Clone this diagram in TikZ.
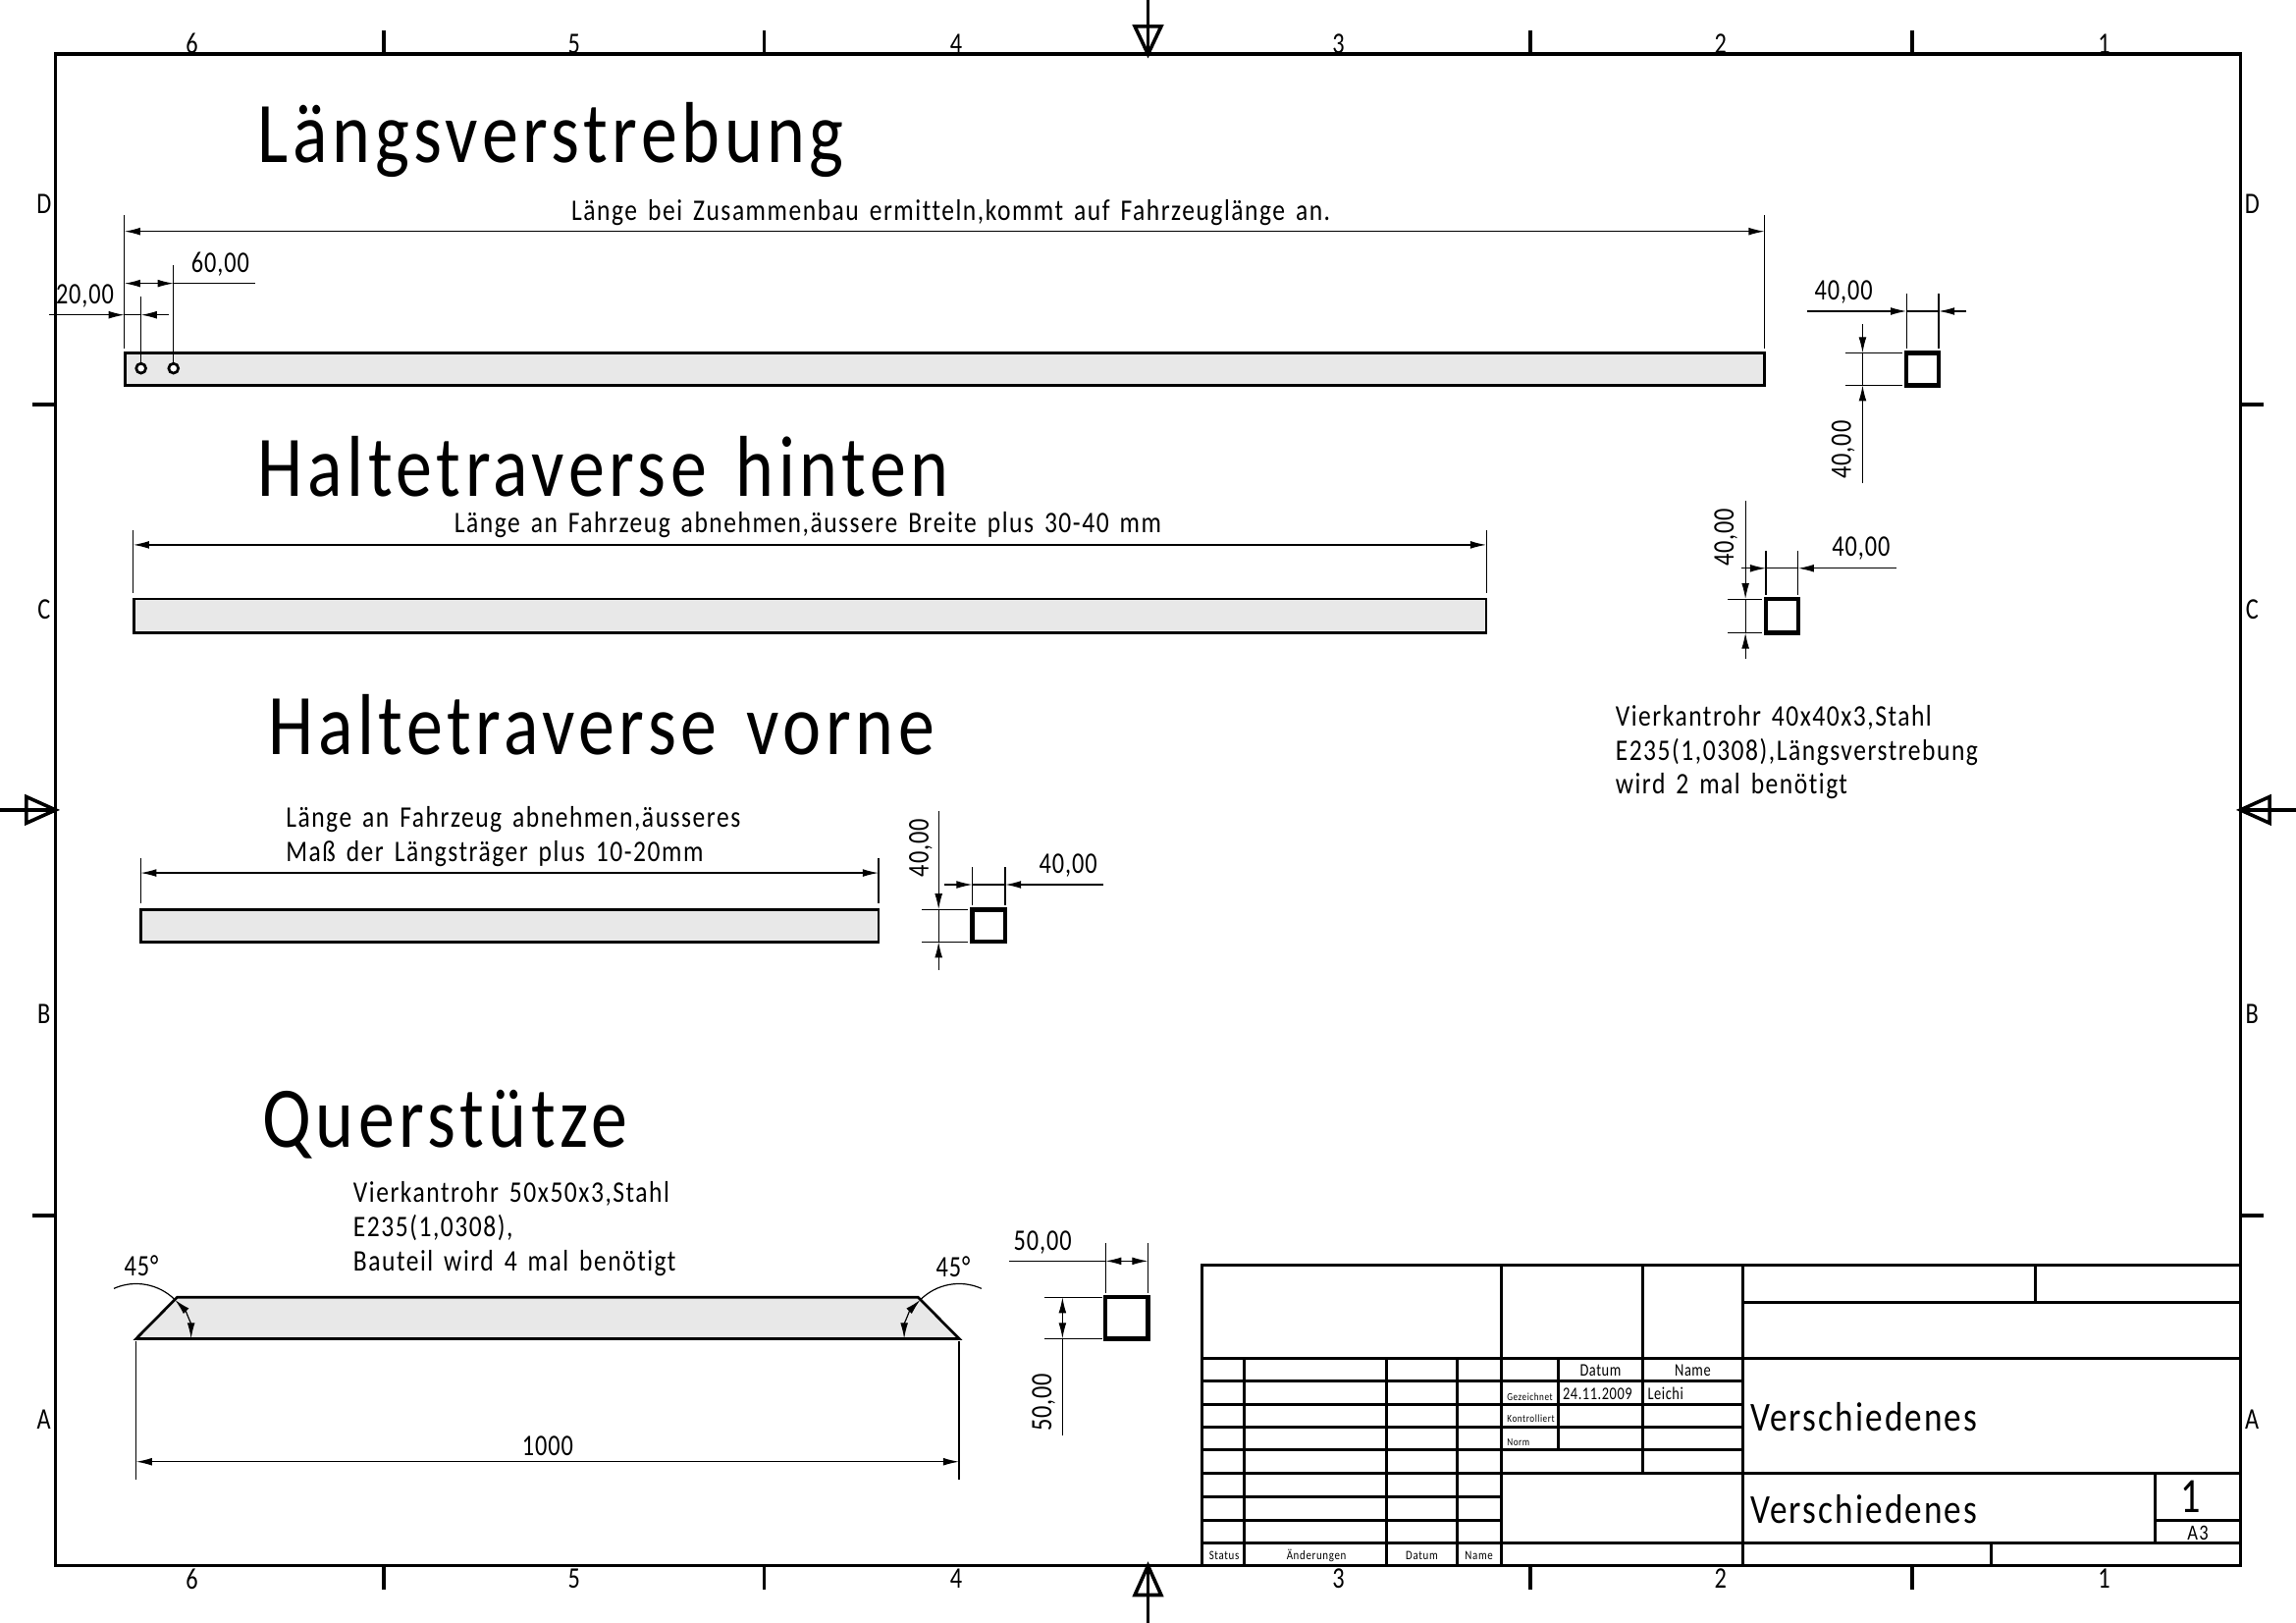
\documentclass[tikz,border=0pt]{standalone}
\usepackage{fontspec}
\setmainfont{Carlito}[FakeStretch=0.84,LetterSpace=5,WordSpace=1.5,Ligatures=CommonOff]
\newfontfamily\headfamily{Carlito}[FakeStretch=0.84,LetterSpace=5.2,WordSpace=1.4,Ligatures=CommonOff]
\newfontfamily\dimfamily{Carlito}[FakeStretch=0.8,LetterSpace=3]
\usetikzlibrary{arrows.meta}
\tikzstyle{frameline} = [line width=0.6mm]
\tikzstyle{blockline} = [line width=0.5mm]
\tikzstyle{partline} = [line width=0.45mm, fill=black!9]
\tikzstyle{profile} = [line width=0.75mm, fill=white]
\tikzstyle{dimline} = [line width=0.2mm]
\tikzstyle{dimtip} = [dimline, arrows={-Latex[length=2.7mm,width=1.3mm]}]
\tikzstyle{dimtips} = [dimline, arrows={Latex[length=2.7mm,width=1.3mm]-Latex[length=2.7mm,width=1.3mm]}]
\tikzstyle{marker} = [line width=0.6mm]
\tikzstyle{headline} = [inner sep=0pt, anchor=base west, yshift=-0.25mm, font=\headfamily\fontsize{42}{42}\selectfont]
\tikzstyle{note} = [inner sep=0pt, anchor=base west, yshift=-0.25mm, text height=9.5pt, font=\fontsize{14.5}{14.5}\selectfont]
\tikzstyle{dimtext} = [inner sep=0pt, anchor=base, yshift=-0.25mm, font=\dimfamily\fontsize{14.5}{14.5}\selectfont]
\tikzstyle{zonetext} = [inner sep=0pt, anchor=center, font=\dimfamily\fontsize{14.5}{14.5}\selectfont]
\tikzstyle{tinytext} = [inner sep=0pt, anchor=base west, font=\fontsize{5.2}{5.2}\selectfont]
\tikzstyle{smalltext} = [inner sep=0pt, anchor=base, font=\fontsize{6.2}{6.2}\selectfont]
\tikzstyle{mediumtext} = [inner sep=0pt, anchor=base, font=\dimfamily\fontsize{8.6}{8.6}\selectfont]
\tikzstyle{sheettitle} = [inner sep=0pt, anchor=base west, yshift=-0.25mm, font=\fontsize{20}{20}\selectfont]
\begin{document}
\begin{tikzpicture}[x=0.25mm, y=-0.25mm]
  \useasboundingbox (0,0) rectangle (1568,1108.1);
  \fill [white] (0,0) rectangle (1568,1108.1);

  % sheet frame
  \draw [frameline] (38,37) rectangle (1530,1069);
  \foreach \tx in {262,522,1045,1306} {
    \draw [frameline] (\tx,37) -- (\tx,21);
    \draw [frameline] (\tx,1069) -- (\tx,1085);
  }
  \foreach \ty in {276,830} {
    \draw [frameline] (38,\ty) -- (22,\ty);
    \draw [frameline] (1530,\ty) -- (1546,\ty);
  }
  \draw [marker] (784,0) -- (784,37);
  \draw [marker] (775,18) -- (793,18) -- (784,37) -- cycle;
  \draw [marker] (784,1108) -- (784,1069);
  \draw [marker] (775,1089) -- (793,1089) -- (784,1069) -- cycle;
  \draw [marker] (0,553) -- (38,553);
  \draw [marker] (18,544) -- (18,562) -- (38,553) -- cycle;
  \draw [marker] (1568,553) -- (1530,553);
  \draw [marker] (1550,544) -- (1550,562) -- (1530,553) -- cycle;
  \foreach \colnum/\cx in {6/131,5/392,4/653,3/914,2/1175,1/1437} {
    \node (top\colnum) [zonetext] at (\cx,30) {\colnum};
    \node (bot\colnum) [zonetext] at (\cx,1078) {\colnum};
  }
  \foreach \zone/\cy in {D/139,C/416,B/692,A/969} {
    \node (left\zone) [zonetext] at (30,\cy) {\zone};
    \node (right\zone) [zonetext] at (1538,\cy) {\zone};
  }

  % first part
  \node (laengs) [headline] at (176,110) {Längsverstrebung};
  \draw [partline] (85.5,241) rectangle (1205,263);
  \draw [line width=0.45mm, fill=white] (96.3,251.5) circle (3.3);
  \draw [line width=0.45mm, fill=white] (118.5,251.5) circle (3.3);
  \node (laengsnote) [note] at (390,149.5) {Länge bei Zusammenbau ermitteln,kommt auf Fahrzeuglänge an.};
  \draw [dimline] (85,147) -- (85,238);
  \draw [dimline] (1205,147) -- (1205,238);
  \draw [dimtips] (85,158) -- (1205,158);
  \draw [dimline] (96.3,202.5) -- (96.3,248);
  \draw [dimline] (118.5,181) -- (118.5,248);
  \draw [dimline] (118.5,193.5) -- (174,193.5);
  \draw [dimtips] (85,193.5) -- (118.5,193.5);
  \draw [dimtip] (33.5,215) -- (85,215);
  \draw [dimtip] (115,215) -- (96.3,215);
  \draw [dimline] (85,215) -- (96.3,215);
  \node (lsixty) [dimtext] at (150.5,185) {60,00};
  \node (ltwenty) [dimtext] at (58,206.7) {20,00};
  \draw [profile] (1302,241) rectangle (1324,263);
  \draw [dimline] (1302,200.5) -- (1302,238);
  \draw [dimline] (1324,200.5) -- (1324,238);
  \draw [dimtip] (1234,212.5) -- (1302,212.5);
  \draw [dimtip] (1343,212.5) -- (1324,212.5);
  \draw [dimline] (1302,212.5) -- (1324,212.5);
  \draw [dimline] (1260,241) -- (1299,241);
  \draw [dimline] (1260,263) -- (1299,263);
  \draw [dimtip] (1272,221.5) -- (1272,241);
  \draw [dimtip] (1272,330) -- (1272,263);
  \draw [dimline] (1272,241) -- (1272,263);
  \node (lwidth) [dimtext] at (1259,204) {40,00};
  \node (lheight) [dimtext, rotate=90] at (1264,306) {40,00};

  % second part
  \node (hinten) [headline] at (176,338) {Haltetraverse hinten};
  \draw [partline] (91.5,409) rectangle (1015,432);
  \node (hintennote) [note] at (310,362.5) {Länge an Fahrzeug abnehmen,äussere Breite plus 30-40 mm};
  \draw [dimline] (91,362) -- (91,405);
  \draw [dimline] (1015,362) -- (1015,405);
  \draw [dimtips] (91,372) -- (1015,372);
  \draw [profile] (1206,409) rectangle (1228,432);
  \draw [dimline] (1206,376) -- (1206,406);
  \draw [dimline] (1228,376) -- (1228,406);
  \draw [dimtip] (1189,388) -- (1206,388);
  \draw [dimtip] (1295,388) -- (1228,388);
  \draw [dimline] (1206,388) -- (1228,388);
  \draw [dimline] (1180,409) -- (1203,409);
  \draw [dimline] (1180,432) -- (1203,432);
  \draw [dimtip] (1192,342) -- (1192,409);
  \draw [dimtip] (1192,450) -- (1192,432);
  \draw [dimline] (1192,409) -- (1192,432);
  \node (hwidth) [dimtext] at (1271,379) {40,00};
  \node (hheight) [dimtext, rotate=90] at (1184,366) {40,00};
  \node (rohrA) [note] at (1103,495) {Vierkantrohr 40x40x3,Stahl};
  \node (rohrB) [note] at (1103,518) {E235(1,0308),Längsverstrebung};
  \node (rohrC) [note] at (1103,541) {wird 2 mal benötigt};

  % third part
  \node (vorne) [headline] at (183,514) {Haltetraverse vorne};
  \draw [partline] (96,621) rectangle (600,643);
  \node (vorneA) [note] at (195,564) {Länge an Fahrzeug abnehmen,äusseres};
  \node (vorneB) [note] at (195,587) {Maß der Längsträger plus 10-20mm};
  \draw [dimline] (96,586) -- (96,617);
  \draw [dimline] (600,586) -- (600,617);
  \draw [dimtips] (96,596) -- (600,596);
  \draw [profile] (664,621) rectangle (686.5,643);
  \draw [dimline] (664,592) -- (664,618);
  \draw [dimline] (686.5,592) -- (686.5,618);
  \draw [dimtip] (645,604) -- (664,604);
  \draw [dimtip] (753.5,604) -- (686.5,604);
  \draw [dimline] (664,604) -- (686.5,604);
  \draw [dimline] (629.5,621) -- (661,621);
  \draw [dimline] (629.5,643) -- (661,643);
  \draw [dimtip] (641,554) -- (641,621);
  \draw [dimtip] (641,662.5) -- (641,643);
  \draw [dimline] (641,621) -- (641,643);
  \node (vwidth) [dimtext] at (729.5,595) {40,00};
  \node (vheight) [dimtext, rotate=90] at (634,578) {40,00};

  % fourth part
  \node (quer) [headline] at (179,782) {Querstütze};
  \node (querA) [note] at (241,820) {Vierkantrohr 50x50x3,Stahl};
  \node (querB) [note] at (241,843) {E235(1,0308),};
  \node (querC) [note] at (241,867) {Bauteil wird 4 mal benötigt};
  \draw [partline] (93,914) -- (121,885.7) -- (627,885.7) -- (655,914) -- cycle;
  \draw [dimline] (93,916) -- (93,1010);
  \draw [dimline] (655,916) -- (655,1010);
  \draw [dimtips] (93,998) -- (655,998);
  \node (querlen) [dimtext] at (374,993) {1000};
  \draw [dimline] (93,914) ++(-114:37.5) arc (-114:-45:37.5);
  \draw [dimtips] (93,914) ++(-45:37.5) arc (-45:0:37.5);
  \draw [dimline] (655,914) ++(-66:37.5) arc (-66:-135:37.5);
  \draw [dimtips] (655,914) ++(-135:37.5) arc (-135:-180:37.5);
  \node (angleL) [dimtext] at (96.5,870) {45°};
  \node (angleR) [dimtext] at (651,871) {45°};
  \draw [profile] (755,885.7) rectangle (784,914);
  \draw [dimline] (755,849) -- (755,883);
  \draw [dimline] (784,849) -- (784,883);
  \draw [dimline] (689,861) -- (755,861);
  \draw [dimtips] (755,861) -- (784,861);
  \draw [dimline] (713.5,885.7) -- (753,885.7);
  \draw [dimline] (713.5,914) -- (753,914);
  \draw [dimtips] (725.6,885.7) -- (725.6,914);
  \draw [dimline] (725.6,914) -- (725.6,980);
  \node (qwidth) [dimtext] at (712,852.5) {50,00};
  \node (qheight) [dimtext, rotate=90] at (718,956.6) {50,00};

  % title block
  \draw [blockline] (821,1069) -- (821,864) -- (1530,864);
  \foreach \bx in {850,947,995} {
    \draw [blockline] (\bx,927.4) -- (\bx,1069);
  }
  \draw [blockline] (1025,864) -- (1025,1069);
  \draw [blockline] (1064,927.4) -- (1064,990);
  \draw [blockline] (1122,864) -- (1122,1006);
  \draw [blockline] (1190,864) -- (1190,1069);
  \foreach \by in {927.4,942.6,958.7,974.2,990,1006} {
    \draw [blockline] (821,\by) -- (1190,\by);
  }
  \foreach \by in {1022.3,1037.8} {
    \draw [blockline] (821,\by) -- (1025,\by);
  }
  \draw [blockline] (821,1053.6) -- (1530,1053.6);
  \draw [blockline] (1190,889) -- (1530,889);
  \draw [blockline] (1190,927.4) -- (1530,927.4);
  \draw [blockline] (1190,1006) -- (1530,1006);
  \draw [blockline] (1390,864) -- (1390,889);
  \draw [blockline] (1472,1006) -- (1472,1053.6);
  \draw [blockline] (1472,1037.8) -- (1530,1037.8);
  \draw [blockline] (1360,1053.6) -- (1360,1069);
  \node (headDatum) [mediumtext] at (1093,939.5) {Datum};
  \node (headName) [mediumtext] at (1156,939.5) {Name};
  \node (gez) [tinytext] at (1029,956) {Gezeichnet};
  \node (kon) [tinytext] at (1029,971) {Kontrolliert};
  \node (norm) [tinytext] at (1029,987) {Norm};
  \node (drawnOn) [mediumtext, anchor=base west] at (1067,955.5) {24.11.2009};
  \node (drawnBy) [mediumtext, anchor=base west] at (1125,955.5) {Leichi};
  \node (status) [smalltext] at (836,1065) {Status};
  \node (changes) [smalltext] at (899,1065) {Änderungen};
  \node (revDate) [smalltext] at (971,1065) {Datum};
  \node (revName) [smalltext] at (1010,1065) {Name};
  \node (titleA) [sheettitle] at (1195,976) {Verschiedenes};
  \node (titleB) [sheettitle] at (1195,1039) {Verschiedenes};
  \node (sheetNo) [dimtext, font=\dimfamily\fontsize{24}{24}\selectfont] at (1496,1032) {1};
  \node (sheetSize) [dimtext, font=\fontsize{10.5}{10.5}\selectfont] at (1501,1050.5) {A3};
\end{tikzpicture}
\end{document}
